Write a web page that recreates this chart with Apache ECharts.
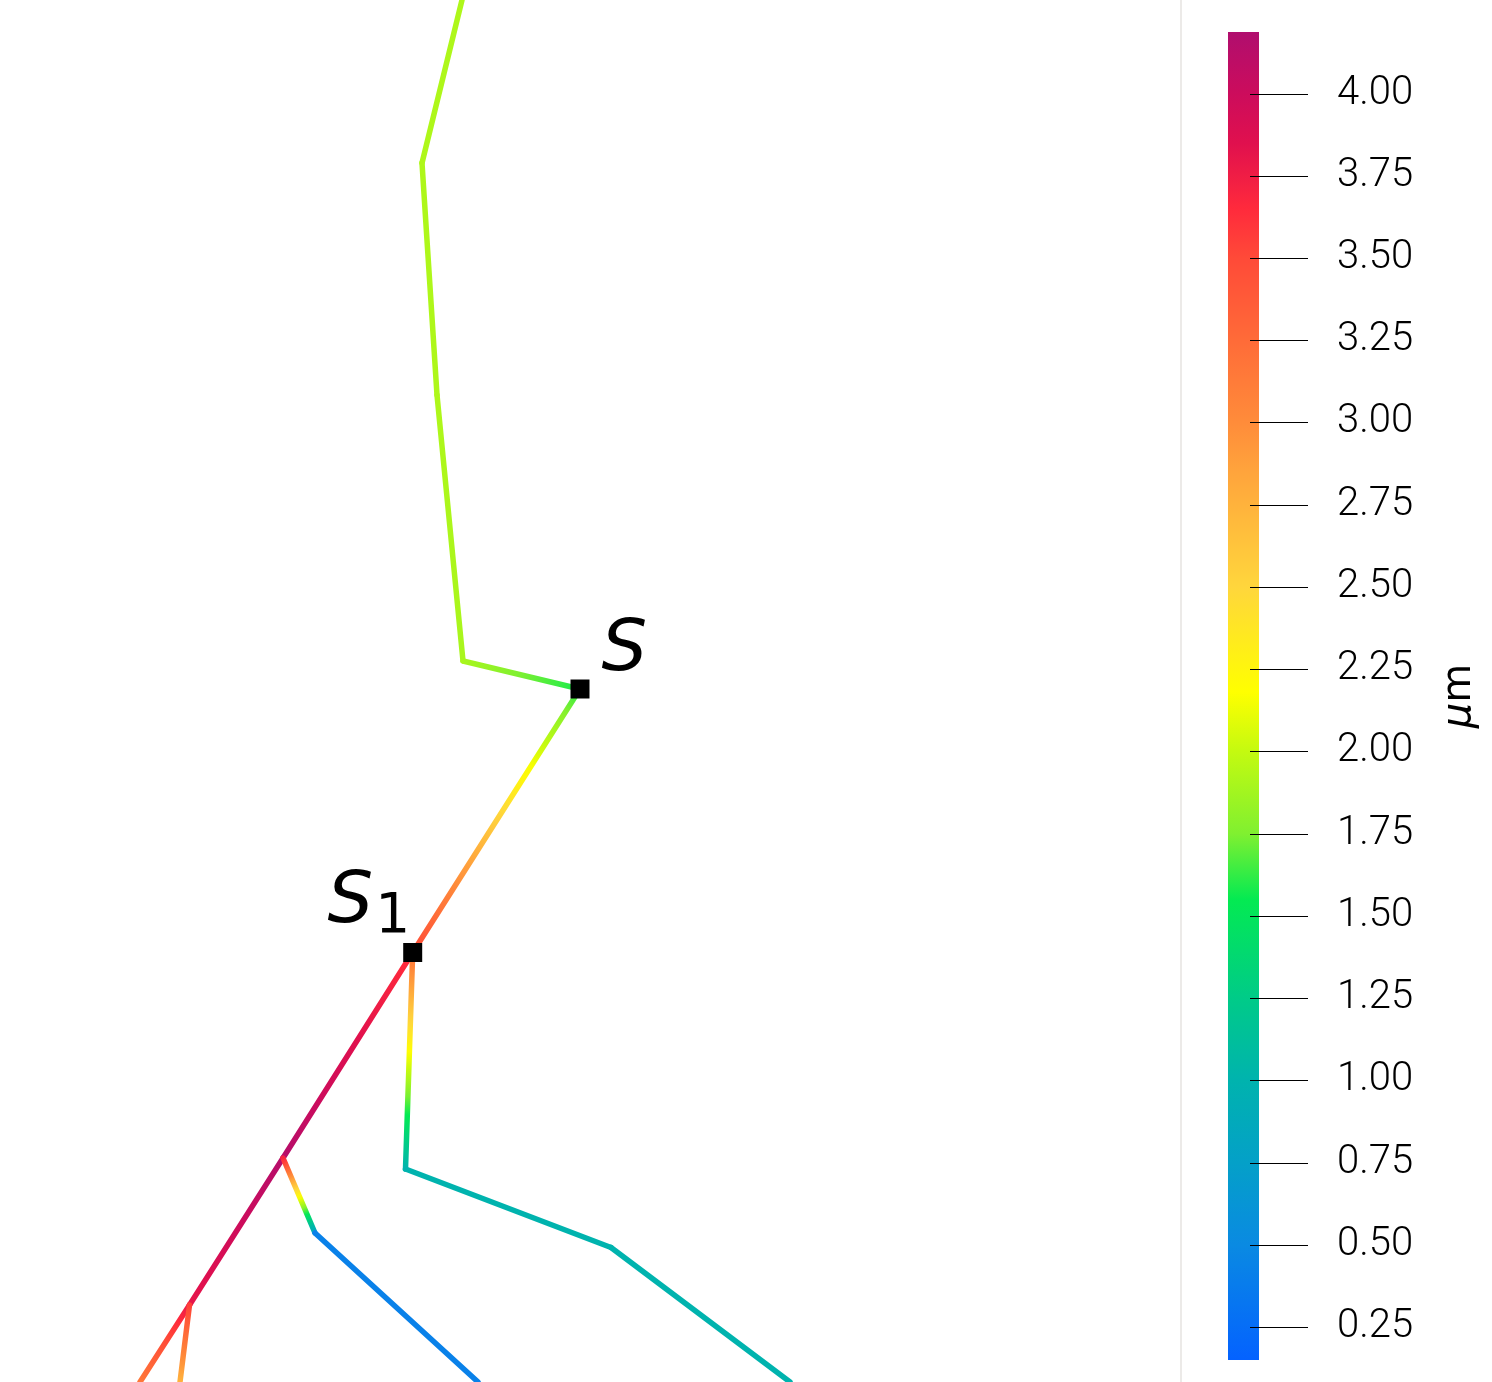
<!DOCTYPE html>
<html><head><meta charset="utf-8">
<script src="https://cdn.jsdelivr.net/npm/echarts@6/dist/echarts.min.js"></script>
<style>html,body{margin:0;padding:0;background:#fff}#main{width:1492px;height:1382px}</style>
</head><body><div id="main"></div>
<script>
// Tree nodes (data units: 1 unit = 10 px of the reference, y upward)
const nodeX = [46.2, 42.2, 43.7, 46.3, 58.0, 41.27, 28.3, 18.95, 14.0, 18.0, 31.5, 47.8, 40.55, 61.1, 79.0];
const nodeY = [138.2, 121.9, 98.7, 72.1, 69.3, 42.95, 22.4, 7.7, 0.0, 0.0, 14.9, 0.0, 21.3, 13.45, 0.0];
// Edges and the value (μm) at each end
const edgeFrom       = [0, 1, 2, 3, 4, 5, 6, 7, 7, 6, 10, 5, 12, 13];
const edgeTo         = [1, 2, 3, 4, 5, 6, 7, 8, 9, 10, 11, 12, 13, 14];
const edgeStartValue = [1.92, 1.92, 1.92, 1.90, 1.60, 3.62, 4.15, 3.78, 3.55, 3.70, 0.42, 3.20, 1.00, 1.00];
const edgeEndValue   = [1.92, 1.92, 1.90, 1.58, 3.50, 4.15, 3.80, 3.15, 2.75, 0.80, 0.42, 1.00, 1.00, 1.00];
// Marked points
const markerNodes = [4, 5];
const markerLabels = ['{s|S}', '{s0|S}{sub|1}'];
// Colour map
const cmapValues = [0.15, 0.5, 0.75, 1.0, 1.25, 1.55, 1.75, 2.0, 2.18, 2.5, 2.85, 3.0, 3.25, 3.5, 3.65, 3.85, 4.0, 4.187];
const cmapColors = ['#0462FF', '#0A8AE2', '#04A0C8', '#00B3AE', '#00CB88', '#04EA52', '#80F030', '#C4FA10', '#FFFF00', '#FFD63C', '#FFA43C', '#FF8C3A', '#FF6B38', '#FF4A38', '#FF2A3C', '#E0104E', '#CC0C5C', '#B00E6E'];
const colorbarMin = 0.15, colorbarMax = 4.187;
const tickValues = [0.25, 0.50, 0.75, 1.00, 1.25, 1.50, 1.75, 2.00, 2.25, 2.50, 2.75, 3.00, 3.25, 3.50, 3.75, 4.00];
const unitName = '{i|μ}m';

function hexToRgb(h) { return [parseInt(h.slice(1,3),16), parseInt(h.slice(3,5),16), parseInt(h.slice(5,7),16)]; }
function colorAt(v) {
  if (v <= cmapValues[0]) return cmapColors[0];
  const n = cmapValues.length;
  if (v >= cmapValues[n-1]) return cmapColors[n-1];
  for (let i = 0; i < n - 1; i++) {
    if (v >= cmapValues[i] && v <= cmapValues[i+1]) {
      const t = (v - cmapValues[i]) / (cmapValues[i+1] - cmapValues[i]);
      const a = hexToRgb(cmapColors[i]), b = hexToRgb(cmapColors[i+1]);
      return 'rgb(' + a.map((c, k) => Math.round(c + (b[k] - c) * t)).join(',') + ')';
    }
  }
  return cmapColors[n-1];
}

const edgeData = edgeFrom.map((f, i) => [nodeX[f], nodeY[f], edgeStartValue[i], nodeX[edgeTo[i]], nodeY[edgeTo[i]], edgeEndValue[i]]);

function renderEdge(params, api) {
  const a = api.coord([api.value(0), api.value(1)]);
  const b = api.coord([api.value(3), api.value(4)]);
  const v0 = api.value(2), v1 = api.value(5);
  const stops = [];
  const n = 24;
  for (let k = 0; k <= n; k++) { const t = k / n; stops.push({offset: t, color: colorAt(v0 + (v1 - v0) * t)}); }
  return {
    type: 'line',
    shape: {x1: a[0], y1: a[1], x2: b[0], y2: b[1]},
    style: {stroke: new echarts.graphic.LinearGradient(a[0], a[1], b[0], b[1], stops, true), lineWidth: 5.5, lineCap: 'round', fill: null}
  };
}

function renderBar(params, api) {
  const top = api.coord([0, colorbarMax]);
  const bottom = api.coord([0, colorbarMin]);
  const cs = params.coordSys;
  const stops = cmapValues.map((v, i) => ({offset: (colorbarMax - v) / (colorbarMax - colorbarMin), color: cmapColors[i]})).reverse();
  return {type: 'rect', shape: {x: cs.x, y: top[1], width: cs.width, height: bottom[1] - top[1]}, style: {fill: new echarts.graphic.LinearGradient(0, 0, 0, 1, stops)}};
}

function renderTick(params, api) {
  const p = api.coord([0, api.value(1)]);
  const cs = params.coordSys;
  const y = Math.round(p[1]) + 0.5;
  return {type: 'line', shape: {x1: cs.x + 22, y1: y, x2: cs.x + 80, y2: y}, style: {stroke: '#000', lineWidth: 1}};
}

const chart = echarts.init(document.getElementById('main'), null, {renderer: 'canvas'});
chart.setOption({
  animation: false,
  backgroundColor: '#fff',
  graphic: [{type: 'rect', left: 1180, top: 0, shape: {width: 2, height: 1382}, style: {fill: '#ECEAE8'}, silent: true}],
  grid: [
    {left: 0, top: 0, width: 1180, height: 1382},
    {left: 1228, top: 32, width: 31, height: 1328}
  ],
  xAxis: [
    {type: 'value', min: 0, max: 118, show: false, gridIndex: 0},
    {type: 'value', min: 0, max: 1, show: false, gridIndex: 1}
  ],
  yAxis: [
    {type: 'value', min: 0, max: 138.2, show: false, gridIndex: 0},
    {
      type: 'value', gridIndex: 1, min: colorbarMin, max: colorbarMax, position: 'right', offset: -9, z: 10,
      axisLine: {show: false}, splitLine: {show: false}, axisTick: {show: false},
      axisLabel: {customValues: tickValues, formatter: v => v.toFixed(2), margin: 87, fontSize: 40, color: '#000', fontFamily: 'Roboto', fontWeight: 300},
      name: unitName, nameLocation: 'middle', nameGap: 190,
      nameTextStyle: {fontSize: 40, fontFamily: 'DejaVu Sans', color: '#000', rich: {i: {fontStyle: 'italic', fontSize: 40, fontFamily: 'DejaVu Sans', color: '#000'}}}
    }
  ],
  series: [
    {type: 'custom', xAxisIndex: 0, yAxisIndex: 0, renderItem: renderEdge, data: edgeData, encode: {x: [0, 3], y: [1, 4]}, silent: true, z: 2},
    {type: 'custom', xAxisIndex: 1, yAxisIndex: 1, renderItem: renderBar, data: [[0.5, colorbarMin]], encode: {x: 0, y: 1}, silent: true, z: 0},
    {type: 'custom', xAxisIndex: 1, yAxisIndex: 1, renderItem: renderTick, data: tickValues.map(v => [0.5, v]), encode: {x: 0, y: 1}, silent: true, z: 3},
    {
      type: 'scatter', xAxisIndex: 0, yAxisIndex: 0, symbol: 'rect', symbolSize: 19, z: 5, silent: true,
      itemStyle: {color: '#000', opacity: 1},
      data: [
        {value: [nodeX[markerNodes[0]], nodeY[markerNodes[0]]], label: {show: true, formatter: markerLabels[0], position: [31, -28], align: 'left', verticalAlign: 'middle'}},
        {value: [nodeX[markerNodes[1]], nodeY[markerNodes[1]]], label: {show: true, formatter: markerLabels[1], position: [7, -37], align: 'right', verticalAlign: 'middle'}}
      ],
      label: {color: '#000', rich: {
        s: {fontFamily: 'DejaVu Sans', fontStyle: 'italic', fontSize: 72, lineHeight: 72, color: '#000'},
        s0: {fontFamily: 'DejaVu Sans', fontStyle: 'italic', fontSize: 72, lineHeight: 72, verticalAlign: 'top', color: '#000'},
        sub: {fontFamily: 'DejaVu Sans', fontSize: 55, lineHeight: 78, verticalAlign: 'bottom', padding: [0, 0, 0, 2], color: '#000'}
      }}
    }
  ]
});
</script></body></html>
